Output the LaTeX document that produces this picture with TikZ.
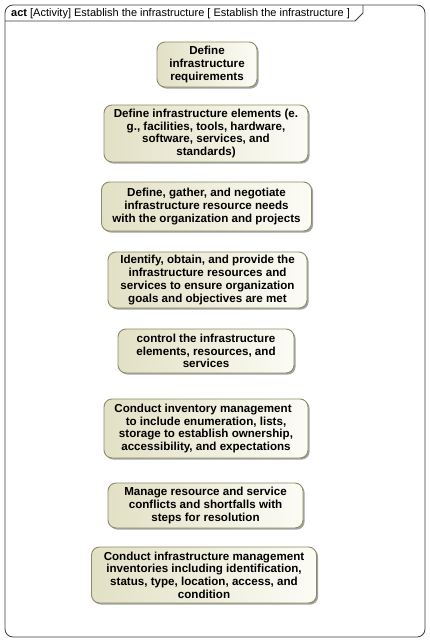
\documentclass[tikz,border=0pt]{standalone}
\usepackage{fontspec}
\setmainfont{Liberation Sans}
\usetikzlibrary{shadows}
\definecolor{actborder}{RGB}{140,140,100}
\definecolor{actleft}{RGB}{226,224,196}
\definecolor{actright}{RGB}{252,252,246}
\definecolor{frameline}{RGB}{60,60,60}
\tikzset{
  actbox/.style={draw=actborder, line width=0.9pt, rounded corners=8pt,
    left color=actleft, right color=actright, align=center,
    font=\fontsize{11.6}{12.7}\selectfont\bfseries, inner sep=0pt,
    drop shadow={shadow xshift=1.6pt, shadow yshift=-1.6pt, fill=black!45, opacity=0.8}},
}
\begin{document}
\begin{tikzpicture}[x=1pt,y=-1pt]
\useasboundingbox (0,0) rectangle (430,642);
\fill[white] (0,0) rectangle (430,642);
% frame
\draw[frameline, line width=0.8pt, rounded corners=8pt] (5,5) rectangle (425,637);
\draw[frameline, line width=0.8pt] (5,21) -- (355,21) -- (363,13) -- (363,5);
\node[anchor=west, inner sep=0pt, font=\fontsize{11}{12}\selectfont] (title) at (11,13.5)
  {\textbf{act} [Activity] Establish the infrastructure [ Establish the infrastructure ]};
% actions
\node[actbox, minimum width=100pt, minimum height=45pt] (b1) at (207,64.5)
  {Define\\infrastructure\\requirements};
\node[actbox, minimum width=204pt, minimum height=57pt] (b2) at (206,133.5)
  {Define infrastructure elements (e.\\g., facilities, tools, hardware,\\software, services, and\\standards)};
\node[actbox, minimum width=210pt, minimum height=49pt] (b3) at (206.5,206.5)
  {Define, gather, and negotiate\\infrastructure resource needs\hspace*{3pt}\\with the organization and projects};
\node[actbox, minimum width=199pt, minimum height=56pt] (b4) at (207.5,280)
  {Identify, obtain, and provide the\\infrastructure resources and\\services to ensure organization\\goals and objectives are met};
\node[actbox, minimum width=176pt, minimum height=44pt] (b5) at (206,351)
  {control the infrastructure\\elements, resources, and\\services};
\node[actbox, minimum width=204pt, minimum height=59pt] (b6) at (206,428.5)
  {Conduct inventory management\hspace*{6pt}\\to include enumeration, lists,\\storage to establish ownership,\\accessibility, and expectations};
\node[actbox, minimum width=195pt, minimum height=45pt] (b7) at (205.5,505.5)
  {Manage resource and service\\conflicts and shortfalls with\\steps for resolution};
\node[actbox, minimum width=225pt, minimum height=56pt] (b8) at (204,575)
  {Conduct infrastructure management\\inventories including identification,\\status, type, location, access, and\\condition};
\end{tikzpicture}
\end{document}
